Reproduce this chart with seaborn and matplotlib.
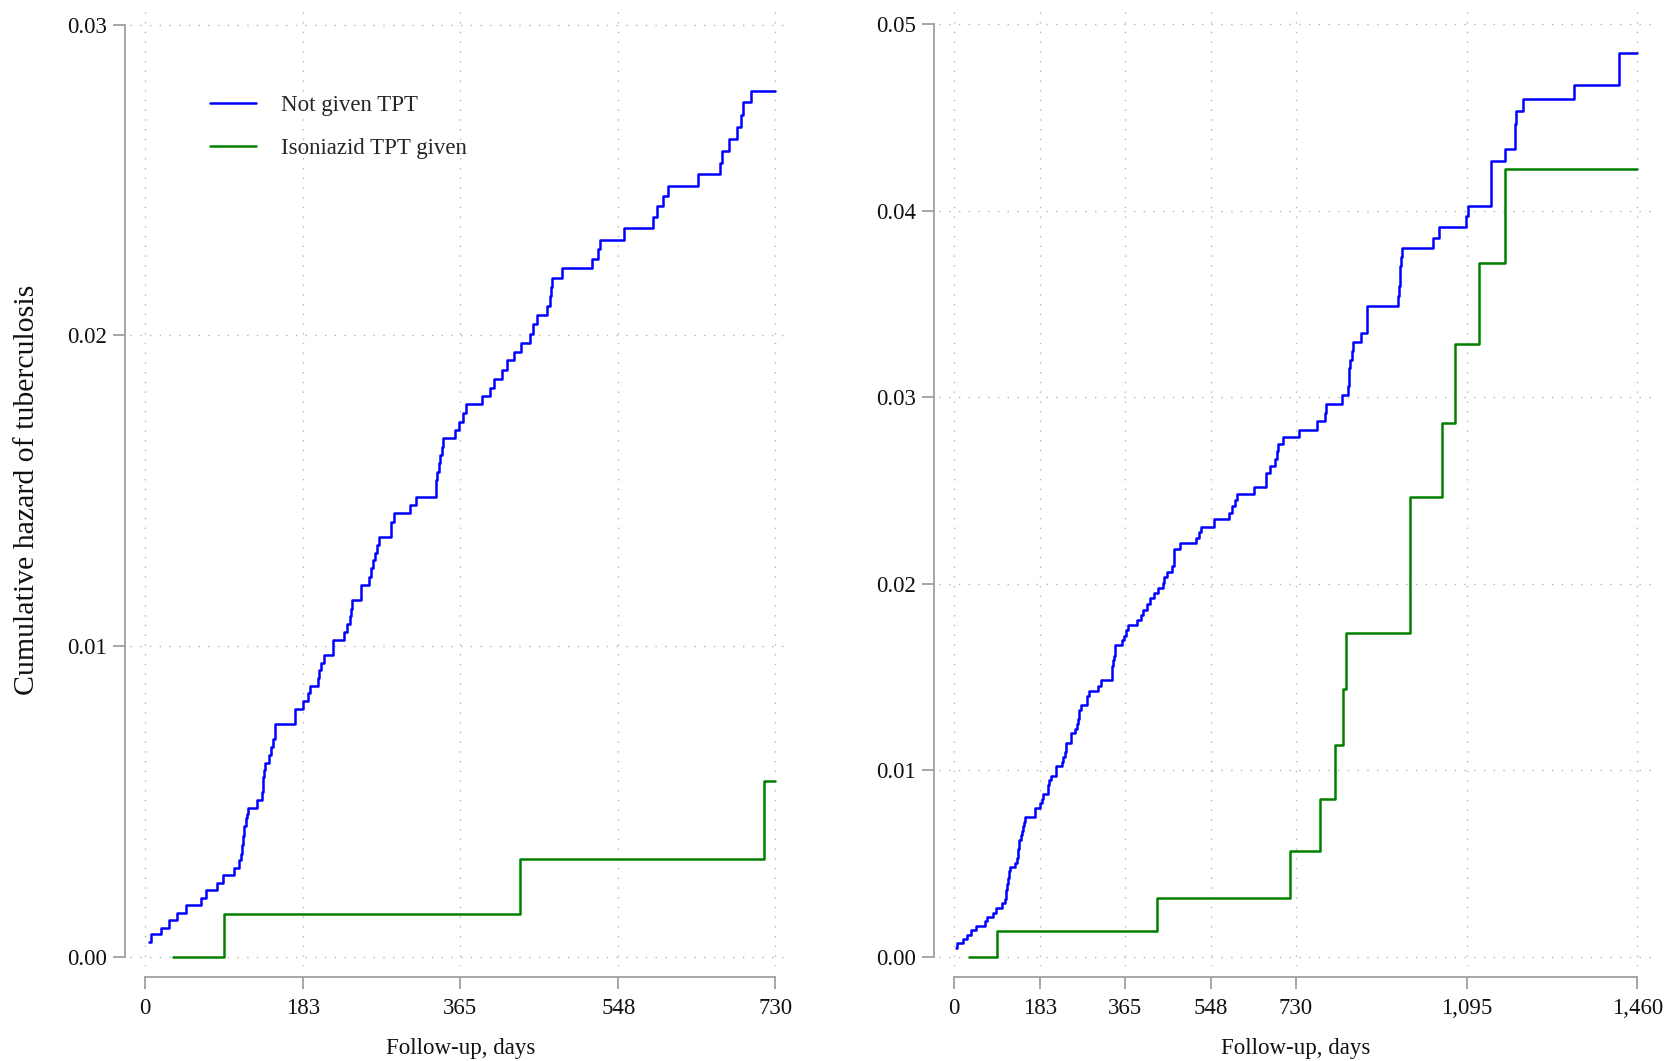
import pandas as pd
import matplotlib.pyplot as plt
import seaborn as sns


# step data (day of event, cumulative hazard after it)
blue_days = [4.9, 6.8, 18.5, 28.2, 37, 47.7, 65.2, 70, 83.2, 90,
             103, 108.5, 110.5, 112, 113.5, 115, 116.5, 118, 119.7, 129.5,
             135, 136, 137, 138, 139, 143, 146, 148.4, 150, 151,
             174, 183, 189, 190.5, 200, 201.5, 203.5, 207, 218, 230,
             233.6, 236.7, 238.5, 240, 250, 259, 262, 264, 266, 268,
             271, 284.5, 288, 307, 314, 337, 338.5, 340, 342, 343.5,
             345, 359, 363, 368, 372, 390, 399, 404, 413, 419.5,
             427.7, 435, 446, 449, 454, 465, 469, 470, 471, 482.6,
             518, 524, 527, 555, 588, 593, 600, 605, 640, 665.5,
             667.5, 675.6, 686, 690, 692, 702, 737, 775, 793, 794,
             829.4, 842, 843.7, 844.5, 845.6, 851, 852.9, 868.6, 881.5, 882.8,
             949, 950, 952, 953.6, 955, 956.8, 1023.8, 1036.6, 1093.5, 1098.5,
             1147, 1177.5, 1197.5, 1198.5, 1199.7, 1214.7, 1324, 1421]
blue_hazard = [0.00046, 0.00072, 0.00094, 0.00118, 0.00142, 0.00166, 0.0019, 0.00214, 0.00237, 0.00262,
               0.00286, 0.0031, 0.0033, 0.0036, 0.0039, 0.0042, 0.00445, 0.00458, 0.0048, 0.00504,
               0.0053, 0.0056, 0.0058, 0.006, 0.00624, 0.0065, 0.00676, 0.007, 0.0072, 0.00748,
               0.00797, 0.00823, 0.00848, 0.00871, 0.00898, 0.00923, 0.00946, 0.0097, 0.0102, 0.01044,
               0.0107, 0.01097, 0.0112, 0.01148, 0.01198, 0.01223, 0.0125, 0.01277, 0.013, 0.01325,
               0.0135, 0.014, 0.01427, 0.01454, 0.01481, 0.01535, 0.0156, 0.0159, 0.01615, 0.01642,
               0.01669, 0.01696, 0.01722, 0.0175, 0.01779, 0.01806, 0.01832, 0.01861, 0.0189, 0.01921,
               0.01948, 0.01977, 0.02006, 0.02036, 0.02065, 0.02095, 0.02126, 0.02156, 0.02186, 0.02216,
               0.02247, 0.02277, 0.02306, 0.02345, 0.0238, 0.02415, 0.02448, 0.02482, 0.02519, 0.02556,
               0.02595, 0.02633, 0.0267, 0.0271, 0.0275, 0.02788, 0.02825, 0.02871, 0.02915, 0.02963,
               0.03011, 0.0306, 0.03107, 0.03154, 0.03198, 0.03246, 0.03295, 0.03345, 0.03418, 0.03491,
               0.03541, 0.03595, 0.03648, 0.03702, 0.0375, 0.038, 0.03854, 0.03911, 0.0397, 0.04027,
               0.04268, 0.04332, 0.04398, 0.04465, 0.04532, 0.04598, 0.04673, 0.04845]

green_days = [32, 91.5, 434.7, 717, 781.7, 813.8, 831.5, 836.5, 974, 1043, 1070, 1122, 1177.5]
green_hazard = [0.0, 0.00137, 0.00316, 0.00566, 0.00845, 0.01134, 0.01434, 0.01737,
                0.02464, 0.02862, 0.03286, 0.0372, 0.04225]

groups = ["Not given TPT", "Isoniazid TPT given"]
colors = {"Not given TPT": "#0000ff", "Isoniazid TPT given": "#008000"}

left_xticks = [0, 183, 365, 548, 730]
right_xticks = [0, 183, 365, 548, 730, 1095, 1460]
left_yticks = [0.0, 0.01, 0.02, 0.03]
right_yticks = [0.0, 0.01, 0.02, 0.03, 0.04, 0.05]


def step_frame(max_day):
    # cut both curves at max_day and carry the last value to the end
    parts = []
    for name, days, vals in [(groups[0], blue_days, blue_hazard),
                             (groups[1], green_days, green_hazard)]:
        d = [x for x in days if x <= max_day]
        v = vals[:len(d)]
        d = d + [max_day]
        v = v + [v[-1]]
        parts.append(pd.DataFrame({"day": d, "hazard": v, "group": name}))
    return pd.concat(parts, ignore_index=True)


sns.set_style("white")
plt.rcParams["font.family"] = ["Liberation Serif", "DejaVu Serif"]

fig = plt.figure(figsize=(16.72, 10.61), dpi=100)
ax1 = fig.add_axes([0.0778, 0.0895, 0.3953, 0.903])
ax2 = fig.add_axes([0.5616, 0.0895, 0.4270, 0.903])

grid_kw = dict(color="#b4b4b4", linestyle=(0, (1, 6)), linewidth=1.0, zorder=0)
spine_col = "#a6a6a6"

panels = [
    (ax1, 730, left_xticks, left_yticks, (-17.4, 748), (-0.0003, 0.03054), True),
    (ax2, 1460, right_xticks, right_yticks, (-32, 1493), (-0.0005, 0.05087), False),
]

for ax, max_day, xticks, yticks, xlim, ylim, show_legend in panels:
    df = step_frame(max_day)
    sns.lineplot(
        data=df, x="day", y="hazard", hue="group", hue_order=groups,
        palette=colors, drawstyle="steps-post", linewidth=1.8,
        estimator=None, sort=False, legend=show_legend, ax=ax, zorder=3
    )

    for g in xticks:
        ax.axvline(g, **grid_kw)
    for g in yticks:
        ax.axhline(g, **grid_kw)

    ax.set_xlim(*xlim)
    ax.set_ylim(*ylim)
    ax.set_xticks(xticks)
    ax.set_xticklabels([f"{t:,}" for t in xticks])
    ax.set_yticks(yticks)
    ax.set_yticklabels([f"{t:.2f}" for t in yticks])

    for side in ["top", "right"]:
        ax.spines[side].set_visible(False)
    ax.spines["left"].set_position(("outward", 3.6))
    ax.spines["bottom"].set_position(("outward", 7.7))
    ax.spines["left"].set_bounds(yticks[0], yticks[-1])
    ax.spines["bottom"].set_bounds(xticks[0], xticks[-1])
    for side in ["left", "bottom"]:
        ax.spines[side].set_color(spine_col)
        ax.spines[side].set_linewidth(1.4)

    ax.tick_params(axis="both", which="major", left=True, bottom=True,
                   length=8.5, width=1.4, color=spine_col,
                   labelsize=16.5, labelcolor="#111111")
    ax.tick_params(axis="y", pad=4.3)
    ax.tick_params(axis="x", pad=6.8)
    ax.set_ylabel("")
    ax.set_xlabel("Follow-up, days", fontsize=16.5, color="#111111")
    ax.xaxis.set_label_coords(0.5, -0.075)

# legend inside the left panel
handles, labels = ax1.get_legend_handles_labels()
ax1.legend(handles, labels, loc="upper left", bbox_to_anchor=(0.121, 0.909),
           frameon=False, fontsize=16.5, handlelength=2.0, handletextpad=1.1,
           labelspacing=0.95, borderpad=0, borderaxespad=0)

fig.text(0.016, 0.538, "Cumulative hazard of tuberculosis", rotation=90,
         ha="center", va="center", fontsize=21.5, color="#111111")

plt.savefig("out.png", dpi=100)
